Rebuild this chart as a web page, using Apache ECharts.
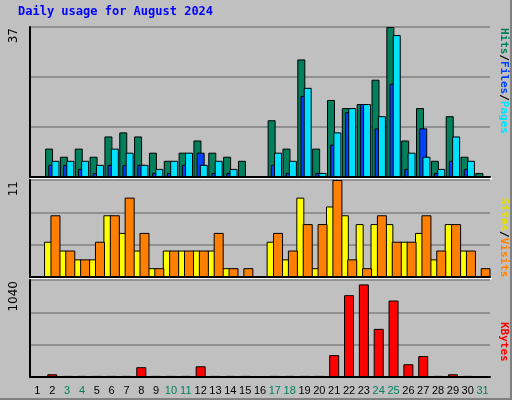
<!DOCTYPE html>
<html><head><meta charset="utf-8">
<script src="https://cdn.jsdelivr.net/npm/echarts@6/dist/echarts.min.js"></script>
<style>
html,body{margin:0;padding:0;background:#fff}
#c{position:absolute;left:0;top:0;width:510px;height:398px;background:#c0c0c0;border-right:2px solid #808080;border-bottom:2px solid #808080;box-sizing:content-box}
</style></head><body><div id="c"></div>
<script>
const days = ['1','2','3','4','5','6','7','8','9','10','11','12','13','14','15','16','17','18','19','20','21','22','23','24','25','26','27','28','29','30','31'];
const weekend = ['3','4','10','11','17','18','24','25','31'];
const hits  = [0,7,5,7,5,10,11,10,6,4,6,9,6,5,4,0,14,7,29,7,19,17,18,24,37,9,17,4,15,5,1];
const files = [0,3,3,2,1,3,3,3,1,1,3,6,1,1,0,0,3,1,20,1,8,16,18,12,23,2,12,1,4,2,0];
const pages = [0,4,4,4,3,7,6,3,2,4,6,3,4,2,0,0,6,4,22,1,11,17,18,15,35,6,5,2,10,4,0];
const sites = [0,4,3,2,2,7,5,3,1,3,3,3,3,1,0,0,4,2,9,1,8,7,6,6,6,4,5,2,6,3,0];
const visits= [0,7,3,2,4,7,9,5,1,3,3,3,5,1,1,0,5,3,6,6,11,2,1,7,4,4,7,3,6,3,1];
const kbytes= [0,29,12,12,12,12,12,105,12,12,12,115,12,12,12,0,12,12,12,12,235,877,993,516,820,137,224,12,29,12,0];
const maxHits = 37, maxVisits = 11, maxKB = 1040;

const chart = echarts.init(document.getElementById('c'));
const L = 30, R = 20;
const grids = [{left:L,right:R,top:27,height:150},{left:L,right:R,top:180,height:97},{left:L,right:R,top:280,height:97}];
const xAxes = grids.map((g,i)=>({type:'category',gridIndex:i,data:days,
  axisLine:{show:true,lineStyle:{color:'#000',width:2}},axisTick:{show:false},
  axisLabel:{show:i===2,interval:0,margin:8,
    formatter:v=>weekend.includes(v)?'{g|'+v+'}':'{k|'+v+'}',
    rich:{g:{color:'#00805c',fontSize:11,fontFamily:'Liberation Sans'},k:{color:'#000',fontSize:11,fontFamily:'Liberation Sans'}}}}));
const mx=[maxHits,maxVisits,maxKB];
const yAxes = grids.map((g,i)=>({type:'value',gridIndex:i,min:0,max:mx[i],interval:mx[i]/3,
  axisLabel:{show:false},axisLine:{show:true,lineStyle:{color:'#000',width:2}},axisTick:{show:false},
  splitLine:{show:true,lineStyle:{color:'#808080',width:1.5}}}));
const bs = (name,data,color,gi,w,gap)=>({type:'bar',name,data,xAxisIndex:gi,yAxisIndex:gi,barWidth:w,barGap:gap,
  itemStyle:{color,borderColor:'#000',borderWidth:1},animation:false,silent:true});
const lbl=(txt,y)=>({type:'text',left:8,top:y,rotation:Math.PI/2,style:{text:txt,font:'12px DejaVu Sans',fill:'#000'}});
const F='bold 11px DejaVu Sans Mono';
const rlbl=(parts,y)=>({type:'text',x:509,y:y,rotation:-Math.PI/2,style:{x:0,y:0,verticalAlign:'top',
  text:parts.map(p=>'{'+p[1]+'|'+p[0]+'}').join(''),font:F,
  rich:{g:{fill:'#00805c',font:F,verticalAlign:'top'},b:{fill:'#0040ff',font:F,verticalAlign:'top'},c:{fill:'#00e0ff',font:F,verticalAlign:'top'},
    o:{fill:'#ff8000',font:F,verticalAlign:'top'},y:{fill:'#e0e000',font:F,verticalAlign:'top'},r:{fill:'#ff0000',font:F,verticalAlign:'top'},k:{fill:'#000',font:F,verticalAlign:'top'}}}});
chart.setOption({
  backgroundColor:'#c0c0c0',
  grid:grids, xAxis:xAxes, yAxis:yAxes,
  series:[
    bs('Hits',hits,'#00805c',0,8,'-60%'),
    bs('Files',files,'#0040ff',0,8,'-60%'),
    bs('Pages',pages,'#00e0ff',0,8,'-60%'),
    bs('Sites',sites,'#ffff00',1,8,'-20%'),
    bs('Visits',visits,'#ff8000',1,10,'-20%'),
    bs('KBytes',kbytes,'#ff0000',2,10,'0%')
  ],
  graphic:[
    {type:'text',left:18,top:6,style:{text:'Daily usage for August 2024',font:'bold 12px DejaVu Sans Mono',fill:'#0000ff'}},
    lbl('37',28), lbl('11',181), lbl('1040',281),
    rlbl([['Hits','g'],['/','k'],['Files','b'],['/','k'],['Pages','c']],28),
    rlbl([['Sites','y'],['/','k'],['Visits','o']],198),
    rlbl([['KBytes','r']],322),
    {type:'line',shape:{x1:L,y1:178.5,x2:492,y2:178.5},style:{stroke:'#fff',lineWidth:2}},
    {type:'line',shape:{x1:L,y1:278.5,x2:492,y2:278.5},style:{stroke:'#fff',lineWidth:2}}
  ]
});
</script></body></html>
